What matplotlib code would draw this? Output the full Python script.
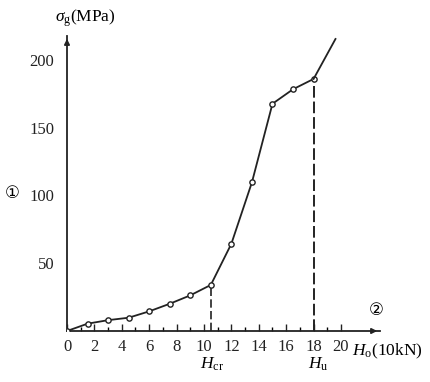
import matplotlib
matplotlib.use("Agg")
import matplotlib.pyplot as plt

load = [0, 1.5, 3.0, 4.5, 6.0, 7.5, 9.0, 10.5, 12.0, 13.5, 15.0, 16.5, 18.0]
stress = [0, 5.4, 8.0, 9.8, 14.5, 20.1, 26.3, 34.0, 64.4, 109.7, 167.7, 178.4, 186.0]
tail_load = [18.0, 19.6]
tail_stress = [186.0, 215.5]
x_ticks = [0, 2, 4, 6, 8, 10, 12, 14, 16, 18, 20]
y_ticks = [50, 100, 150, 200]
h_cr = 10.5
h_u = 18.0

plt.rcParams['font.family'] = ['Liberation Serif', 'DejaVu Serif']
plt.rcParams['mathtext.fontset'] = 'custom'
plt.rcParams['mathtext.rm'] = 'Liberation Serif'
plt.rcParams['mathtext.it'] = 'Liberation Serif:italic'
plt.rcParams['mathtext.bf'] = 'Liberation Serif:bold'

fig = plt.figure(figsize=(4.3, 3.82), dpi=100)
W, H = 430, 382
left, bottom, right, top = 67, 331, 380, 36
ax = fig.add_axes([left / W, (H - bottom) / H, (right - left) / W, (bottom - top) / H])
ax.set_xlim(0, 22.85)
ax.set_ylim(0, 217.7)
for s in ['top', 'right']:
    ax.spines[s].set_visible(False)
for s in ['left', 'bottom']:
    ax.spines[s].set_linewidth(1.3)
    ax.spines[s].set_color('#222222')

# arrows
ax.annotate('', xy=(1.0, 0), xytext=(0.97, 0), xycoords='axes fraction',
            arrowprops=dict(arrowstyle='-|>', color='#222222', lw=1.2, mutation_scale=8), annotation_clip=False)
ax.annotate('', xy=(0, 1.0), xytext=(0, 0.96), xycoords='axes fraction',
            arrowprops=dict(arrowstyle='-|>', color='#222222', lw=1.2, mutation_scale=8), annotation_clip=False)

ax.plot(load, stress, color='#222222', lw=1.3, marker='o', markersize=3.8,
        markerfacecolor='white', markeredgecolor='#222222', markeredgewidth=1.0, zorder=3)
ax.plot(tail_load, tail_stress, color='#222222', lw=1.3, zorder=3)

ax.plot([h_cr, h_cr], [0, stress[7]], color='#222222', lw=1.2, ls=(0, (5, 2)))
ax.plot([h_u, h_u], [0, stress[12]], color='#222222', lw=1.4, ls=(0, (6, 2)))

ax.set_xticks(x_ticks)
ax.set_xticks(list(range(1, 21, 2)), minor=True)
ax.tick_params(axis='x', which='major', direction='in', length=5, width=1.0, labelsize=12, pad=6, colors='#222222')
ax.tick_params(axis='x', which='minor', direction='in', length=3, width=1.0)
ax.set_yticks(y_ticks)
ax.tick_params(axis='y', which='major', length=0, labelsize=12, pad=9, colors='#222222')

fig.text(55 / W, 1 - 18 / H, r'$\sigma_{\rm g}$(MPa)', fontsize=12.5, va='center', ha='left')
fig.text(12 / W, 1 - 193 / H, '①', fontsize=12, va='center', ha='center', family=['DejaVu Sans'])
fig.text(376 / W, 1 - 310 / H, '②', fontsize=12, va='center', ha='center', family=['DejaVu Sans'])
fig.text(352 / W, 1 - 351 / H, r'$H_{\rm o}$(10kN)', fontsize=12.5, va='center', ha='left')
fig.text(212 / W, 1 - 364 / H, r'$H_{\rm cr}$', fontsize=12.5, va='center', ha='center')
fig.text(318 / W, 1 - 364 / H, r'$H_{\rm u}$', fontsize=12.5, va='center', ha='center')

fig.savefig('out.png', dpi=100, facecolor='white')
